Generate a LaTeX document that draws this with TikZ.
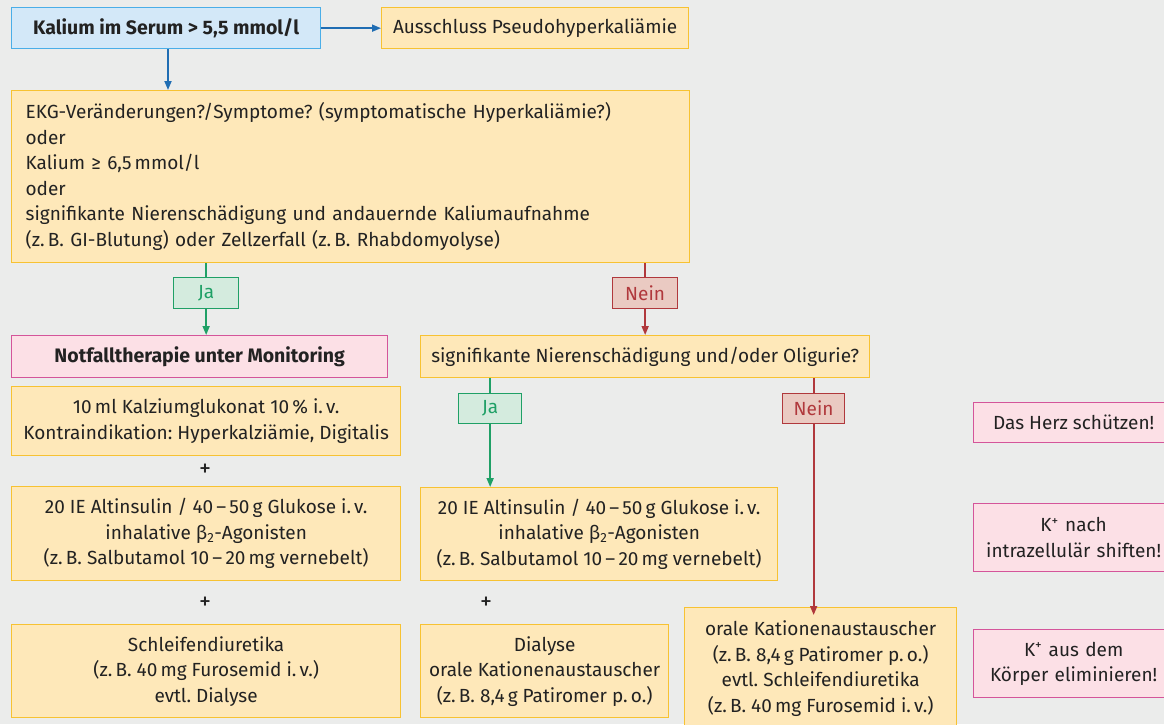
\documentclass[tikz,border=0pt]{standalone}
\usepackage{fontspec}
\setmainfont{Fira Sans}
\usetikzlibrary{arrows.meta}
\definecolor{bg}{HTML}{EBECEB}
\definecolor{ofill}{HTML}{FEE8B9}
\definecolor{odraw}{HTML}{F7C232}
\definecolor{bfill}{HTML}{D3E8F8}
\definecolor{bdraw}{HTML}{4AAEE8}
\definecolor{barrow}{HTML}{1F6DB3}
\definecolor{pfill}{HTML}{FCE0E6}
\definecolor{pdraw}{HTML}{D4559A}
\definecolor{gfill}{HTML}{D4EBDE}
\definecolor{gdraw}{HTML}{1FA066}
\definecolor{rfill}{HTML}{EACAC2}
\definecolor{rdraw}{HTML}{B0383C}
\definecolor{txt}{HTML}{222222}
\frenchspacing
\begin{document}
\begin{tikzpicture}[x=1pt,y=-1pt,
  font=\fontsize{19}{25.5}\selectfont,
  box/.style={draw, line width=1.3pt, anchor=north west, inner sep=0pt, align=center, text=txt},
  obox/.style={box, fill=ofill, draw=odraw},
  pbox/.style={box, fill=pfill, draw=pdraw},
  bbox/.style={box, fill=bfill, draw=bdraw},
  jabox/.style={box, fill=gfill, draw=gdraw, text=gdraw},
  neinbox/.style={box, fill=rfill, draw=rdraw, text=rdraw},
  boldtext/.style={font=\fontsize{19.5}{25.5}\selectfont\bfseries},
  tip/.style={-{Triangle[length=9pt,width=7pt]}},
  garrow/.style={draw=gdraw, line width=1.7pt},
  rarrow/.style={draw=rdraw, line width=1.7pt},
  barr/.style={draw=barrow, line width=1.7pt},
  plus/.style={text=txt, inner sep=0pt, font=\fontsize{24}{24}\selectfont}
]
\fill[bg] (0,0) rectangle (1164,724);
\useasboundingbox (0,0) rectangle (1164,724);

\node[bbox, boldtext, minimum width=309pt, minimum height=41pt] (k) at (11,7) {Kalium im Serum > 5,5 mmol/l};
\node[obox, minimum width=307pt, minimum height=41pt] (aus) at (381,7) {Ausschluss Pseudohyperkaliämie};
\node[obox, minimum width=678pt, minimum height=172pt, text width=650pt, align=left] (ekg) at (11,90) {EKG-Veränderungen?/Symptome? (symptomatische Hyperkaliämie?)\\ oder\\ Kalium ≥ 6,5\,mmol/l\\ oder\\ signifikante Nierenschädigung und andauernde Kaliumaufnahme\\ (z.\,B. GI-Blutung) oder Zellzerfall (z.\,B. Rhabdomyolyse)};

\node[jabox, minimum width=65pt, minimum height=31pt] (ja1) at (173,277) {Ja};
\node[neinbox, minimum width=65pt, minimum height=31pt] (nein1) at (612,277) {Nein};

\node[pbox, boldtext, minimum width=376pt, minimum height=42pt] (notf) at (11,335) {Notfalltherapie unter Monitoring};
\node[obox, minimum width=449pt, minimum height=42pt] (sig) at (420,335) {signifikante Nierenschädigung und/oder Oligurie?};

\node[obox, minimum width=389pt, minimum height=69pt] (kalz) at (11,386) {10\,ml Kalziumglukonat 10\,\% i.\,v.\\ Kontraindikation: Hyperkalziämie, Digitalis};
\node[plus] (p1) at (205,470) {+};
\node[obox, minimum width=389pt, minimum height=94pt] (ins1) at (11,486) {20 IE Altinsulin / 40\,–\,50\,g Glukose i.\,v.\\ inhalative β\textsubscript{2}-Agonisten\\ (z.\,B. Salbutamol 10\,–\,20\,mg vernebelt)};
\node[plus] (p2) at (205,603) {+};
\node[obox, minimum width=389pt, minimum height=93pt] (schl) at (11,624) {Schleifendiuretika\\ (z.\,B. 40\,mg Furosemid i.\,v.)\\ evtl. Dialyse};

\node[jabox, minimum width=63pt, minimum height=30pt] (ja2) at (458,393) {Ja};
\node[neinbox, minimum width=62pt, minimum height=30pt] (nein2) at (782,393) {Nein};

\node[obox, minimum width=357pt, minimum height=93pt] (ins2) at (420,487) {20 IE Altinsulin / 40\,–\,50\,g Glukose i.\,v.\\ inhalative β\textsubscript{2}-Agonisten\\ (z.\,B. Salbutamol 10\,–\,20\,mg vernebelt)};
\node[plus] (p3) at (486,603) {+};
\node[obox, minimum width=248pt, minimum height=93pt] (dial) at (420,624) {Dialyse\\ orale Kationenaustauscher\\ (z.\,B. 8,4\,g Patiromer p.\,o.)};
\node[obox, minimum width=272pt, minimum height=122pt] (orale) at (684,607) {orale Kationenaustauscher\\ (z.\,B. 8,4\,g Patiromer p.\,o.)\\ evtl. Schleifendiuretika\\ (z.\,B. 40\,mg Furosemid i.\,v.)};

\node[pbox, minimum width=200pt, minimum height=40pt] (herz) at (973,402) {Das Herz schützen!};
\node[pbox, minimum width=200pt, minimum height=68pt, text width=191pt] (shift) at (973,503) {K\textsuperscript{+} nach\\ intrazellulär shiften!};
\node[pbox, minimum width=200pt, minimum height=68pt, text width=191pt] (elim) at (973,629) {K\textsuperscript{+} aus dem\\ Körper eliminieren!};

\draw[barr, tip] (k.east) -- (aus.west);
\draw[barr, tip] (k.south -| 168,0) -- (ekg.north -| 168,0);
\draw[garrow] (ekg.south -| ja1) -- (ja1.north);
\draw[garrow, tip] (ja1.south) -- (ja1.south |- notf.north);
\draw[rarrow] (ekg.south -| nein1) -- (nein1.north);
\draw[rarrow, tip] (nein1.south) -- (nein1.south |- sig.north);
\draw[garrow] (sig.south -| ja2) -- (ja2.north);
\draw[garrow, tip] (ja2.south) -- (ja2.south |- ins2.north);
\draw[rarrow] (sig.south -| nein2) -- (nein2.north);
\draw[rarrow, tip] (nein2.south) -- ([yshift=-8pt]nein2.south |- orale.north);
\end{tikzpicture}
\end{document}
